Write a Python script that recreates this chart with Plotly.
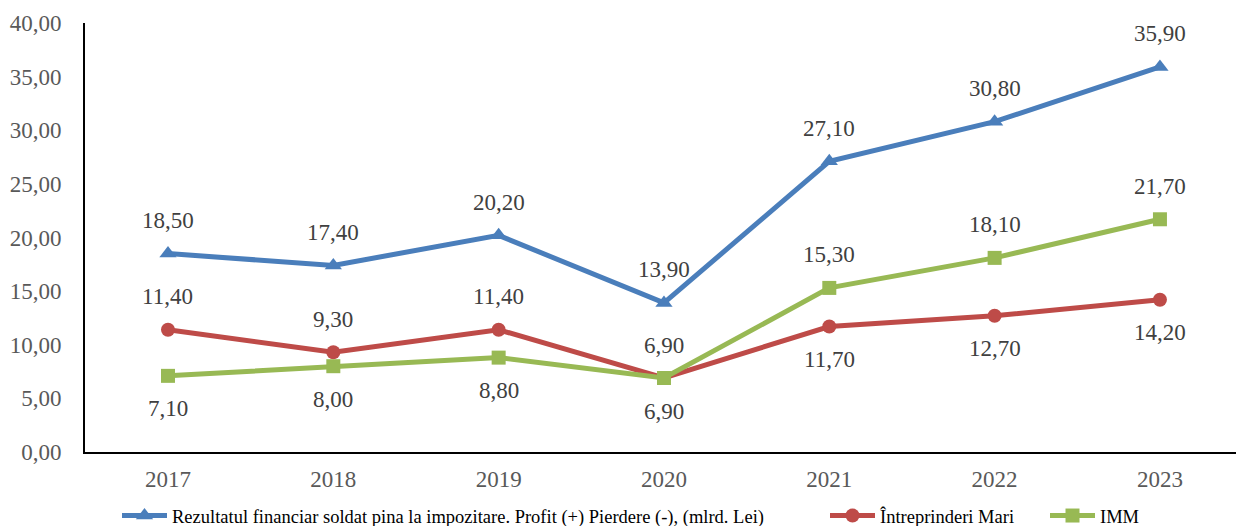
import plotly.graph_objects as go

years = ["2017", "2018", "2019", "2020", "2021", "2022", "2023"]
profit = [18.5, 17.4, 20.2, 13.9, 27.1, 30.8, 35.9]
mari = [11.4, 9.3, 11.4, 6.9, 11.7, 12.7, 14.2]
imm = [7.1, 8.0, 8.8, 6.9, 15.3, 18.1, 21.7]

names = ["Rezultatul financiar soldat pina la impozitare. Profit (+) Pierdere (-), (mlrd. Lei)",
         "Întreprinderi Mari", "IMM"]
colors = ["#4A7EBB", "#BE4B48", "#98B954"]
symbols = ["triangle-up", "circle", "square"]
msizes = [15, 14, 14]
# label side: +1 above, -1 below
label_side = [
    [1, 1, 1, 1, 1, 1, 1],
    [1, 1, 1, 1, -1, -1, -1],
    [-1, -1, -1, -1, 1, 1, 1],
]

FONT = "Liberation Serif"
L, W, T, B = 85, 1151, 23, 74
H = 526 - T - B
fig = go.Figure()
xs = list(range(len(years)))
legend_ids = ["legend", "legend2", "legend3"]
legend_text_px = [172, 880, 1100]
for vals, name, col, sym, ms, lid in zip([profit, mari, imm], names, colors, symbols, msizes, legend_ids):
    fig.add_trace(go.Scatter(
        x=xs, y=vals, name=name, mode="lines+markers",
        line=dict(color=col, width=5),
        marker=dict(symbol=sym, size=ms, color=col),
        legend=lid,
    ))

annotations = []
for vals, sides in zip([profit, mari, imm], label_side):
    for i, v in enumerate(vals):
        annotations.append(dict(
            x=i, y=v, xref="x", yref="y", showarrow=False,
            text=f"{v:.2f}".replace(".", ","),
            yshift=33 * sides[i],
            font=dict(family=FONT, size=23, color="#404040"),
        ))

leg_common = dict(orientation="h", xanchor="left", y=(452 - 516) / H, yanchor="middle",
                  font=dict(family=FONT, size=18.5, color="#000000"),
                  bgcolor="rgba(0,0,0,0)", itemwidth=45)
layout_legends = {}
for lid, px in zip(legend_ids, legend_text_px):
    layout_legends[lid] = dict(leg_common, x=(px - 55 - L) / W)

fig.update_layout(
    width=1236, height=526,
    margin=dict(l=L, r=0, t=T, b=B, autoexpand=False),
    plot_bgcolor="white", paper_bgcolor="white",
    font=dict(family=FONT, color="#595959"),
    annotations=annotations,
    showlegend=True,
    separators=", ",
    **layout_legends,
)
fig.update_xaxes(
    range=[-0.502, 6.46], tickmode="array", tickvals=xs, ticktext=years,
    showline=True, linecolor="black", linewidth=2, showgrid=False, zeroline=False,
    ticks="", ticklabelstandoff=5,
    tickfont=dict(family=FONT, size=23, color="#595959"),
)
fig.update_yaxes(
    range=[0, 40], dtick=5, tickformat=".2f",
    showline=True, linecolor="black", linewidth=2, showgrid=False, zeroline=False,
    ticks="", ticklabelstandoff=17,
    tickfont=dict(family=FONT, size=23, color="#595959"),
)
fig.write_html("out.html", post_script="document.body.style.margin='0';",
               config={"displayModeBar": False})
